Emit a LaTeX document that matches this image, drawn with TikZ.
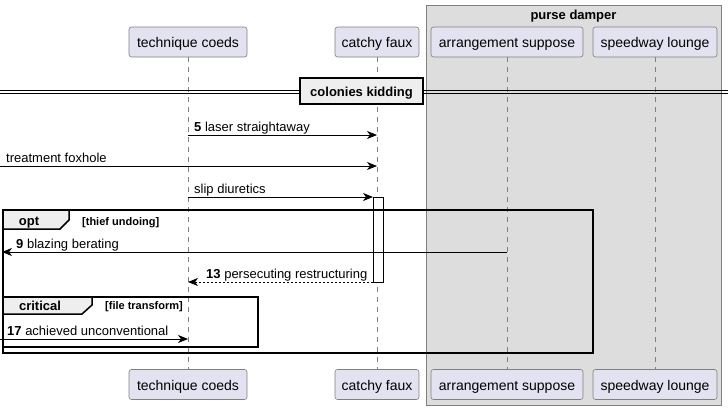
\documentclass[tikz,border=0pt]{standalone}
\usepackage{fontspec}
\setmainfont{Liberation Sans}
\usepackage{xcolor}
\usepackage{tikz}
\usetikzlibrary{positioning, arrows.meta, calc}

\definecolor{partfill}{HTML}{E2E2F0}
\definecolor{partline}{HTML}{808080}
\definecolor{boxfill}{HTML}{DDDDDD}
\definecolor{tabfill}{HTML}{EEEEEE}

\tikzset{
    part/.style={draw=partline, fill=partfill, rounded corners=2.5pt, minimum height=30pt,
        inner sep=0pt, text height=12pt, text depth=1pt, line width=0.6pt,
        font=\fontsize{14pt}{16pt}\selectfont},
    life/.style={draw=partline, line width=0.5pt, dash pattern=on 5pt off 5pt},
    msg/.style={line width=0.8pt, -{Stealth[length=10pt, width=8pt, inset=3pt]}},
    reply/.style={msg, dash pattern=on 2pt off 2pt},
    lbl/.style={inner sep=0pt, anchor=base west, font=\fontsize{13pt}{15pt}\selectfont},
    frame/.style={line width=1.5pt, draw=black},
    tabtxt/.style={inner sep=0pt, anchor=base, font=\fontsize{13pt}{15pt}\selectfont\bfseries},
    condtxt/.style={inner sep=0pt, anchor=base west, font=\fontsize{11pt}{13pt}\selectfont\bfseries},
}

\begin{document}
\begin{tikzpicture}[x=1pt, y=-1pt]
    \useasboundingbox (0,0) rectangle (728,410);

    % Box round the last two participants
    \draw[draw=partline, fill=boxfill, line width=0.6pt] (426,5) rectangle (721,405);
    \node[tabtxt] (pdTitle) at (573.5,19) {purse damper};

    % Participants, top and bottom, with lifelines
    \foreach \n/\x/\w/\t in {tc/188/118/technique coeds, cf/377/84/catchy faux,
                             as/507/152/arrangement suppose, sl/655/124/speedway lounge} {
        \node[part, minimum width=\w pt] (\n-top) at (\x,42) {\t};
        \node[part, minimum width=\w pt] (\n-bot) at (\x,384.5) {\t};
        \draw[life] (\n-top) -- (\n-bot);
    }

    % Divider
    \draw[line width=0.8pt] (0,90) -- (728,90);
    \draw[line width=0.8pt] (0,93) -- (728,93);
    \node[draw=black, fill=tabfill, line width=1.5pt, minimum width=123pt, minimum height=26pt,
        inner sep=0pt, text height=11.5pt, text depth=1pt,
        font=\fontsize{13pt}{15pt}\selectfont\bfseries] (divider) at (361.5,91) {colonies kidding};

    % Messages
    \coordinate (m5s) at (tc-top |- 0,135);
    \coordinate (m5e) at (cf-top |- 0,135);
    \draw[msg] (m5s) -- (m5e);
    \node[lbl, xshift=6pt, yshift=4pt] (l5) at (m5s) {\textbf{5} laser straightaway};

    \coordinate (m6s) at (0,166);
    \coordinate (m6e) at (cf-top |- 0,166);
    \draw[msg] (m6s) -- (m6e);
    \node[lbl, xshift=6pt, yshift=4pt] (l6) at (m6s) {treatment foxhole};

    \coordinate (m7s) at (tc-top |- 0,197);
    \coordinate (m7e) at (373,197);
    \draw[msg] (m7s) -- (m7e);
    \node[lbl, xshift=6pt, yshift=4pt] (l7) at (m7s) {slip diuretics};

    % Activation on catchy faux
    \draw[fill=white, line width=0.8pt] (373,197) rectangle (383,282);

    \coordinate (m9s) at (as-top |- 0,252);
    \coordinate (m9e) at (2,252);
    \draw[msg] (m9s) -- (m9e);
    \node[lbl, xshift=14pt, yshift=4pt] (l9) at (m9e) {\textbf{9} blazing berating};

    \coordinate (m13s) at (373,282);
    \coordinate (m13e) at (tc-top |- 0,282);
    \draw[reply] (m13s) -- (m13e);
    \node[lbl, xshift=18pt, yshift=4pt] (l13) at (m13e) {\textbf{13} persecuting restructuring};

    \coordinate (m17s) at (0,339);
    \coordinate (m17e) at (tc-top |- 0,339);
    \draw[msg] (m17s) -- (m17e);
    \node[lbl, xshift=7pt, yshift=4pt] (l17) at (m17s) {\textbf{17} achieved unconventional};

    % opt frame
    \draw[frame] (3,210) rectangle (593,353);
    \draw[frame, fill=tabfill] (3,210) -- (69,210) -- (69,220) -- (60,229) -- (3,229) -- cycle;
    \node[tabtxt] (optTab) at (29,225.5) {opt};
    \node[condtxt] (optCond) at (82,225) {[thief undoing]};

    % critical frame
    \draw[frame] (3,297) rectangle (258,347);
    \draw[frame, fill=tabfill] (3,297) -- (92,297) -- (92,305) -- (82,314) -- (3,314) -- cycle;
    \node[tabtxt] (critTab) at (40,310.5) {critical};
    \node[condtxt] (critCond) at (105,309.5) {[file transform]};
\end{tikzpicture}
\end{document}
